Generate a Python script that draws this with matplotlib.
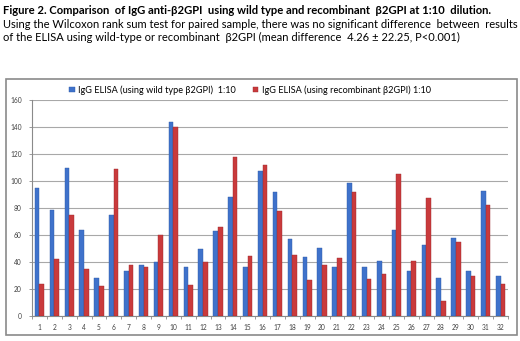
import numpy as np
import matplotlib
matplotlib.use('Agg')
import matplotlib.pyplot as plt
from matplotlib.patches import Rectangle

plt.rcParams['font.family'] = ['Lato', 'DejaVu Sans']

samples = [str(i) for i in range(1, 33)]
wild_type = [95, 78.5, 110, 63.5, 28.5, 74.5, 33.5, 38, 40, 143.5, 36.5, 50,
             63, 88, 36.5, 107.5, 91.5, 57, 44, 50.5, 36, 98.5, 36, 40.5,
             63.5, 33, 52.5, 28.5, 58, 33.5, 92.5, 30]
recombinant = [23.5, 42, 74.5, 34.5, 22, 109, 38, 36, 60, 140, 23, 40,
               66, 118, 44.5, 112, 78, 45, 26.5, 37.5, 43, 91.5, 27.5, 31,
               105.5, 40.5, 87.5, 11, 55, 30, 82, 23.5]
yticks = [0, 20, 40, 60, 80, 100, 120, 140, 160]

blue = '#3F72CB'
red = '#C93A3C'

fig = plt.figure(figsize=(5.2, 3.41), dpi=100)

fig.text(0.006, 0.970, 'Figure 2. Comparison  of IgG anti-β2GPI  using wild type and recombinant  β2GPI at 1:10  dilution.',
         fontsize=8.1, fontweight='bold', va='center', ha='left')
fig.text(0.006, 0.929, 'Using the Wilcoxon rank sum test for paired sample, there was no significant difference  between  results',
         fontsize=8, va='center', ha='left')
fig.text(0.006, 0.891, 'of the ELISA using wild-type or recombinant  β2GPI (mean difference  4.26 ± 22.25, P<0.001)',
         fontsize=8, va='center', ha='left')

# outer chart box
fig.patches.append(Rectangle((6 / 520, 1 - 335 / 341), 511 / 520, 256 / 341,
                             transform=fig.transFigure, fill=False,
                             edgecolor='#8a8a8a', linewidth=1.2))

ax = fig.add_axes([32 / 520, 1 - 316 / 341, 476 / 520, 216 / 341])
x = np.arange(len(samples))
w = 0.31
ax.bar(x - w / 2, wild_type, w, color=blue, edgecolor='#2f5aa8', linewidth=0.3,
       label='IgG ELISA (using wild type β2GPI)  1:10', zorder=3)
ax.bar(x + w / 2, recombinant, w, color=red, edgecolor='#9e2a2c', linewidth=0.3,
       label='IgG ELISA (using recombinant β2GPI) 1:10', zorder=3)

ax.set_xlim(-0.5, len(samples) - 0.5)
ax.set_ylim(0, 160)
ax.set_yticks(yticks)
ax.set_xticks(x)
ax.set_xticklabels(samples)
ax.set_xticks(np.arange(-0.5, len(samples)), minor=True)
ax.tick_params(axis='x', which='major', length=0, labelsize=4.8, pad=6, colors='#404040')
ax.tick_params(axis='x', which='minor', length=2.5, color='#8a8a8a', width=0.6)
ax.tick_params(axis='y', length=2.5, width=0.6, labelsize=4.8, colors='#404040', pad=5)
ax.tick_params(axis='y', color='#8a8a8a')
ax.grid(axis='y', color='#a8a8a8', linewidth=0.8, zorder=0)
for s in ['top', 'right']:
    ax.spines[s].set_visible(False)
for s in ['left', 'bottom']:
    ax.spines[s].set_color('#8a8a8a')
    ax.spines[s].set_linewidth(0.8)

fig.legend(loc='center', bbox_to_anchor=(250 / 520, 1 - 90 / 341), ncol=2, frameon=False,
           fontsize=6.6, handlelength=0.6, handleheight=0.6, handletextpad=0.4,
           columnspacing=1.8)

fig.savefig('out.png', dpi=100)
